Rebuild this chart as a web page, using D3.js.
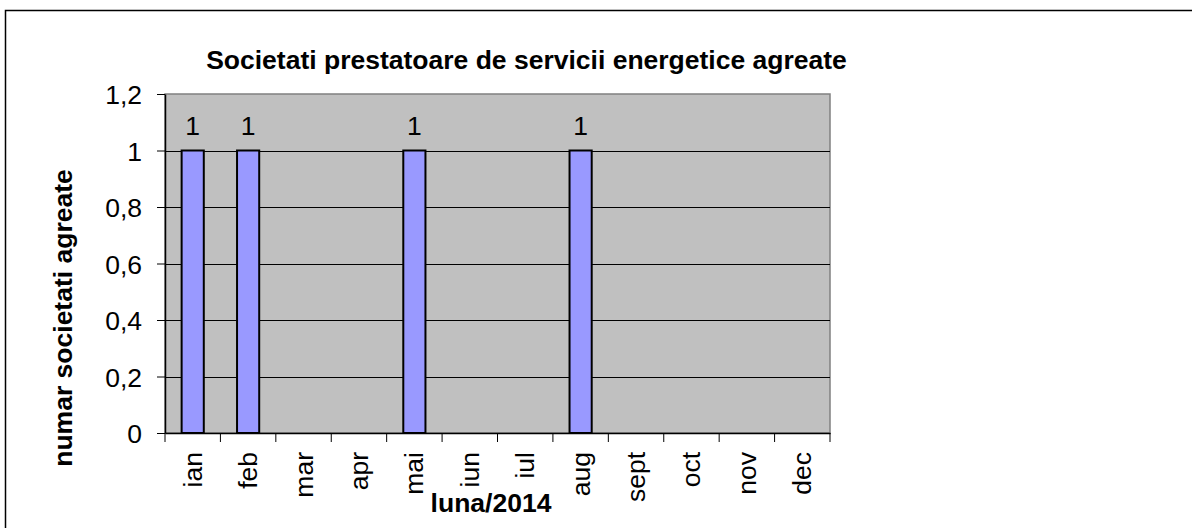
<!DOCTYPE html>
<html><head><meta charset="utf-8">
<script src="https://cdn.jsdelivr.net/npm/d3@7"></script>
<style>body{margin:0;background:#fff}svg{display:block}text{font-family:"Liberation Sans",Arial,sans-serif}</style>
</head><body><svg id="c" width="1192" height="528"></svg>
<script>
const months = ["ian","feb","mar","apr","mai","iun","iul","aug","sept","oct","nov","dec"];
const values = [1,1,0,0,1,0,0,1,0,0,0,0];
const yTicks = [0,0.2,0.4,0.6,0.8,1,1.2];
const title = "Societati prestatoare de servicii energetice agreate";
const yTitle = "numar societati agreate";
const xTitle = "luna/2014";

const FS = 26.5;
const svg = d3.select("#c");
const L=165, R=830, T=94, B=433;
svg.append("rect").attr("x",5.5).attr("y",10.5).attr("width",1200).attr("height",530).attr("fill","none").attr("stroke","#000").attr("stroke-width",1.5);

const x = d3.scaleBand().domain(months).range([L,R]).paddingInner(0).paddingOuter(0);
const y = d3.scaleLinear().domain([0,1.2]).range([B,T]);

svg.append("rect").attr("x",L).attr("y",T).attr("width",R-L).attr("height",B-T).attr("fill","#c0c0c0").attr("stroke","#808080").attr("stroke-width",1.5);

svg.append("g").selectAll("line").data(yTicks.slice(1,-1)).join("line")
  .attr("x1",L).attr("x2",R).attr("y1",d=>Math.round(y(d))+0.5).attr("y2",d=>Math.round(y(d))+0.5)
  .attr("stroke","#000").attr("stroke-width",1);

const fmt = d => String(+d.toFixed(1)).replace(".",",");
const ya = svg.append("g").attr("transform",`translate(${L},0)`)
  .call(d3.axisLeft(y).tickValues(yTicks).tickSize(8).tickSizeOuter(0).tickPadding(15).tickFormat(fmt));
ya.select(".domain").attr("stroke","#000").attr("stroke-width",1.5);
ya.selectAll("line").attr("stroke","#000");
ya.selectAll("text").attr("font-size",FS).attr("fill","#000").attr("dy","0.36em").attr("font-family","Liberation Sans, Arial, sans-serif");

const xa = svg.append("g").attr("transform",`translate(0,${B})`)
  .call(d3.axisBottom(x).tickSize(0).tickSizeOuter(0).tickFormat(""));
xa.select(".domain").attr("stroke","#000").attr("stroke-width",1.5);
svg.append("g").selectAll("line").data(d3.range(13)).join("line")
  .attr("x1",i=>L+i*x.step()).attr("x2",i=>L+i*x.step()).attr("y1",B).attr("y2",B+9).attr("stroke","#000");
svg.append("g").selectAll("text").data(months).join("text")
  .attr("transform",d=>`translate(${x(d)+x.bandwidth()/2+9},${B+19}) rotate(-90)`)
  .attr("text-anchor","end").attr("font-size",FS).text(d=>d);

const bw = x.bandwidth()*0.4;
const pts = months.map((m,i)=>({m,v:values[i]})).filter(d=>d.v>0);
svg.append("g").selectAll("rect").data(pts).join("rect")
  .attr("x",d=>x(d.m)+x.bandwidth()/2-bw/2).attr("y",d=>y(d.v)).attr("width",bw).attr("height",d=>B-y(d.v))
  .attr("fill","#9999ff").attr("stroke","#000").attr("stroke-width",2);
svg.append("g").selectAll("text").data(pts).join("text")
  .attr("x",d=>x(d.m)+x.bandwidth()/2).attr("y",d=>y(d.v)-16).attr("text-anchor","middle").attr("font-size",FS).text(d=>d.v);

svg.append("text").attr("x",526.5).attr("y",69).attr("text-anchor","middle").attr("font-size",FS).attr("font-weight","bold").text(title);
svg.append("text").attr("transform",`translate(72,318) rotate(-90)`).attr("text-anchor","middle").attr("font-size",FS).attr("font-weight","bold").text(yTitle);
svg.append("text").attr("x",491).attr("y",512).attr("text-anchor","middle").attr("font-size",FS).attr("font-weight","bold").text(xTitle);
</script></body></html>
